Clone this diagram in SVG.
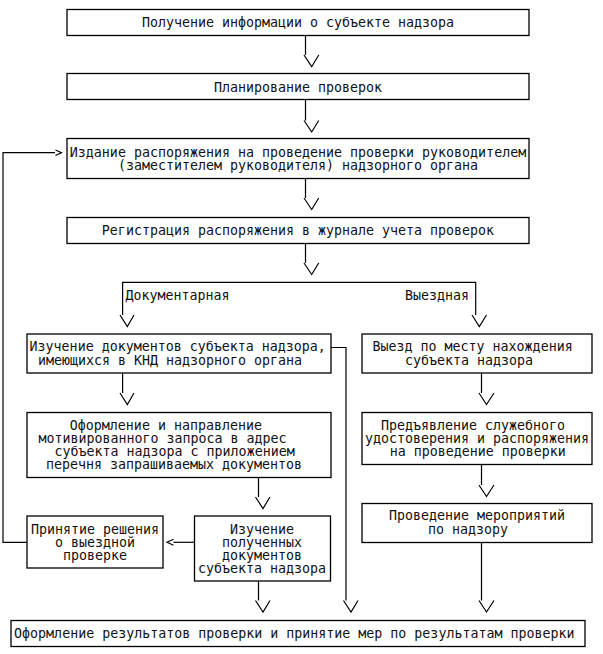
<svg xmlns="http://www.w3.org/2000/svg" width="603" height="654" viewBox="0 0 603 654">
<style>
.box{fill:#fff;stroke:#000;stroke-width:1.3}
.t{font-family:"DejaVu Sans Mono","Liberation Mono",monospace;font-size:13.3px;fill:#111;text-anchor:middle}
.c{fill:none;stroke:#000;stroke-width:1.2}
</style>
<rect width="603" height="654" fill="#fff"/>
<g id="connectors">
<path class="c" d="M305.5,35.5V55M305.5,99.5V120.5M305.5,178.5V198M305.5,243.5V263"/>
<polyline class="c" points="304,55 311.7,66.7 318.7,55"/>
<polyline class="c" points="304,120.5 311.7,132 318.7,120.5"/>
<polyline class="c" points="304,198 311.7,209.5 318.7,198"/>
<polyline class="c" points="304,263 311.7,274.5 318.7,263"/>
<path class="c" d="M122.6,315V282.3H475.7V315"/>
<polyline class="c" points="120,315 127.3,326.5 134,315"/>
<polyline class="c" points="472,315 479.3,326.5 486.5,315"/>
<path class="c" d="M122.6,373V393M481.5,373V393M481.5,464.5V485M258.5,477.5V497"/>
<polyline class="c" points="120,393 127.3,404.5 134,393"/>
<polyline class="c" points="479,393 486.5,404.5 494,393"/>
<polyline class="c" points="479,485 486.5,496.5 494,485"/>
<polyline class="c" points="255.5,497 263,508.5 270,497"/>
<path class="c" d="M258.5,581V600.5M331,347.5H346V600.5M481.5,542.5V600.5"/>
<polyline class="c" points="255.5,600.5 263,612 270,600.5"/>
<polyline class="c" points="343.5,600.5 351,612 358,600.5"/>
<polyline class="c" points="479,600.5 486.5,612 494,600.5"/>
<path class="c" d="M27,542.3H3V152.7H55"/>
<polyline class="c" points="55.5,150 61.5,152.7 55.5,155.5"/>
<path class="c" d="M194.5,542.3H173.5"/>
<polyline class="c" points="173.5,539.3 167,542.3 173.5,545.3"/>
<text class="t" x="125.5" y="299.5" style="text-anchor:start">Документарная</text>
<text class="t" x="469" y="299.5" style="text-anchor:end">Выездная</text>
</g>
<g id="n1"><rect class="box" x="67" y="9.5" width="462" height="26"/>
<text class="t" x="298" y="27">Получение информации о субъекте надзора</text></g>
<g id="n2"><rect class="box" x="67" y="73.5" width="462" height="26"/>
<text class="t" x="298" y="91.5">Планирование проверок</text></g>
<g id="n3"><rect class="box" x="67" y="138.5" width="462" height="40"/>
<text class="t" x="298" y="157">Издание распоряжения на проведение проверки руководителем</text>
<text class="t" x="298" y="170">(заместителем руководителя) надзорного органа</text></g>
<g id="n4"><rect class="box" x="67" y="217.5" width="462" height="26"/>
<text class="t" x="298" y="234.7">Регистрация распоряжения в журнале учета проверок</text></g>
<g id="n5"><rect class="box" x="27" y="334" width="304" height="39"/>
<text class="t" x="177.7" y="351.4">Изучение документов субъекта надзора,</text>
<text class="t" x="170" y="364.7">имеющихся в КНД надзорного органа</text></g>
<g id="n6"><rect class="box" x="362" y="334" width="230" height="39"/>
<text class="t" x="472.6" y="351.4">Выезд по месту нахождения</text>
<text class="t" x="469" y="364.7">субъекта надзора</text></g>
<g id="n7"><rect class="box" x="27" y="412.5" width="304" height="65"/>
<text class="t" x="165.9" y="429.7">Оформление и направление</text>
<text class="t" x="162.5" y="442.7">мотивированного запроса в адрес</text>
<text class="t" x="174.6" y="455.7">субъекта надзора с приложением</text>
<text class="t" x="174" y="468.7">перечня запрашиваемых документов</text></g>
<g id="n8"><rect class="box" x="362" y="412.5" width="230" height="52"/>
<text class="t" x="473" y="429.7">Предъявление служебного</text>
<text class="t" x="477" y="442.7">удостоверения и распоряжения</text>
<text class="t" x="477.8" y="455.7">на проведение проверки</text></g>
<g id="n9"><rect class="box" x="362" y="503.5" width="230" height="39"/>
<text class="t" x="477" y="520.4">Проведение мероприятий</text>
<text class="t" x="468" y="534">по надзору</text></g>
<g id="n10"><rect class="box" x="27" y="516" width="136" height="52"/>
<text class="t" x="95" y="533.7">Принятие решения</text>
<text class="t" x="95" y="546.7">о выездной</text>
<text class="t" x="95" y="559.7">проверке</text></g>
<g id="n11"><rect class="box" x="194.5" y="516" width="136" height="65"/>
<text class="t" x="262" y="533.7">Изучение</text>
<text class="t" x="262" y="546.7">полученных</text>
<text class="t" x="262" y="559.7">документов</text>
<text class="t" x="262" y="572.7">субъекта надзора</text></g>
<g id="n12"><rect class="box" x="11" y="620.5" width="574" height="26"/>
<text class="t" x="294.3" y="637.8">Оформление результатов проверки и принятие мер по результатам проверки</text></g>
</svg>
